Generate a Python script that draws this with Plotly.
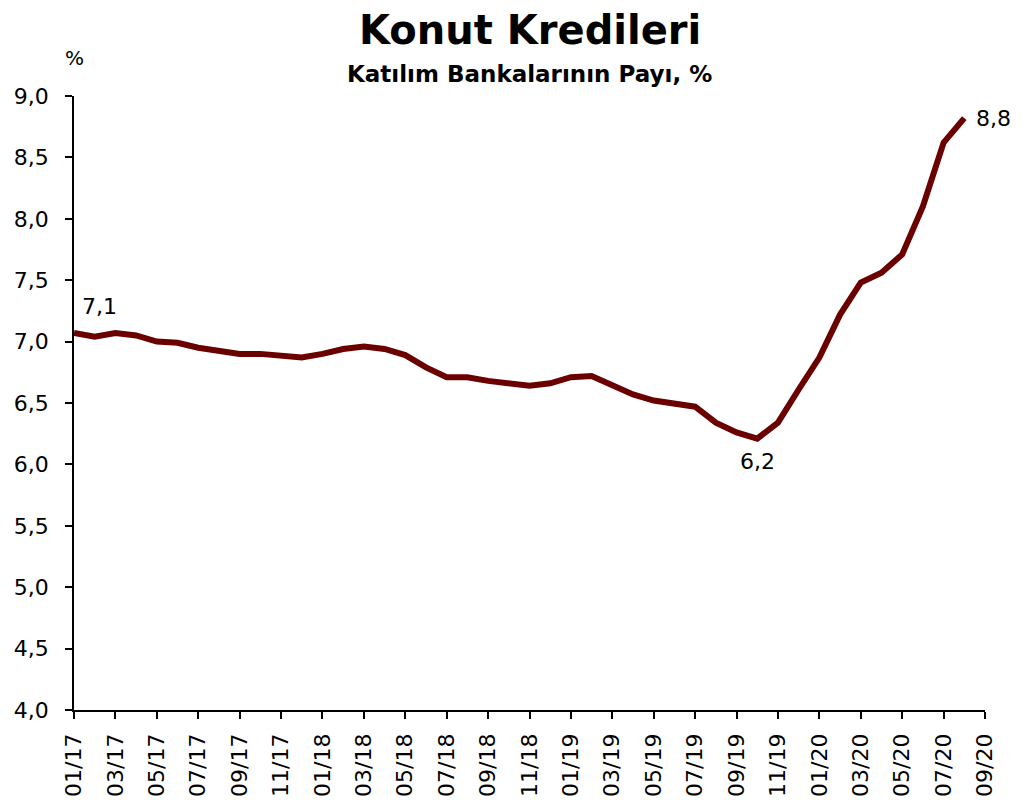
import plotly.graph_objects as go

months = [f"{m:02d}/{y}" for y in (17, 18, 19, 20) for m in range(1, 13)][:45]  # 01/17 .. 09/20
share = [7.07, 7.04, 7.07, 7.05, 7.00, 6.99, 6.95, 6.92, 6.90, 6.90, 6.88, 6.87,
         6.90, 6.94, 6.96, 6.94, 6.89, 6.79, 6.71, 6.71, 6.68, 6.66, 6.64, 6.66,
         6.71, 6.72, 6.64, 6.57, 6.52, 6.50, 6.47, 6.34, 6.26, 6.21, 6.34, 6.61,
         6.87, 7.22, 7.48, 7.56, 7.71, 8.10, 8.62, 8.82]
x_data = months[:len(share)]
tick_labels = months[::2]
y_ticks = [4.0 + 0.5 * i for i in range(11)]
y_tick_text = [f"{v:.1f}".replace(".", ",") for v in y_ticks]

FONT = "DejaVu Sans, sans-serif"
LINE = "#6B0000"

fig = go.Figure()
fig.add_trace(go.Scatter(x=x_data, y=share, mode="lines",
                         line=dict(color=LINE, width=6), showlegend=False,
                         hoverinfo="skip"))

imin = share.index(min(share))
ann = [
    dict(x=x_data[0], y=share[0], text="7,1", xanchor="left", yanchor="bottom",
         xshift=6, yshift=12),
    dict(x=x_data[imin], y=share[imin], text="6,2", xanchor="center", yanchor="top",
         yshift=-8),
    dict(x=x_data[-1], y=share[-1], text="8,8", xanchor="left", yanchor="middle",
         xshift=10),
]
for a in ann:
    a.update(showarrow=False, font=dict(family=FONT, size=22, color="black"))
fig.update_layout(annotations=ann)

fig.add_annotation(text="<b>Konut Kredileri</b>", xref="paper", yref="paper",
                   x=0.5, y=1, yshift=66, xanchor="center", yanchor="middle",
                   showarrow=False, font=dict(family=FONT, size=40, color="black"))
fig.add_annotation(text="<b>Katılım Bankalarının Payı, %</b>", xref="paper", yref="paper",
                   x=0.5, y=1, yshift=22, xanchor="center", yanchor="middle",
                   showarrow=False, font=dict(family=FONT, size=23, color="black"))
fig.add_annotation(text="%", xref="paper", yref="paper", x=0, y=1, yshift=38,
                   xanchor="center", yanchor="middle", showarrow=False,
                   font=dict(family=FONT, size=20, color="black"))

fig.update_xaxes(type="category", categoryorder="array", categoryarray=months,
                 range=[0, len(months) - 1], tickmode="array", tickvals=tick_labels,
                 ticktext=tick_labels, tickangle=-90, ticks="outside", ticklen=7,
                 tickcolor="black", tickwidth=1.5, showline=True, linecolor="black",
                 linewidth=1.5, showgrid=False, zeroline=False, automargin=False,
                 ticklabelstandoff=6,
                 tickfont=dict(family=FONT, size=22, color="black"))
fig.update_yaxes(range=[4.0, 9.0], tickmode="array", tickvals=y_ticks,
                 ticktext=y_tick_text, ticks="outside", ticklen=7, tickcolor="black",
                 tickwidth=1.5, showline=True, linecolor="black", linewidth=1.5,
                 showgrid=False, zeroline=False, automargin=False,
                 ticklabelstandoff=12,
                 tickfont=dict(family=FONT, size=22, color="black"))

# page body has an 8px margin, so the figure is sized/offset to compensate
fig.update_layout(width=1015, height=794, margin=dict(l=66, r=38, t=88, b=92),
                  plot_bgcolor="white", paper_bgcolor="white",
                  font=dict(family=FONT, color="black"))

fig.write_html("out.html")
